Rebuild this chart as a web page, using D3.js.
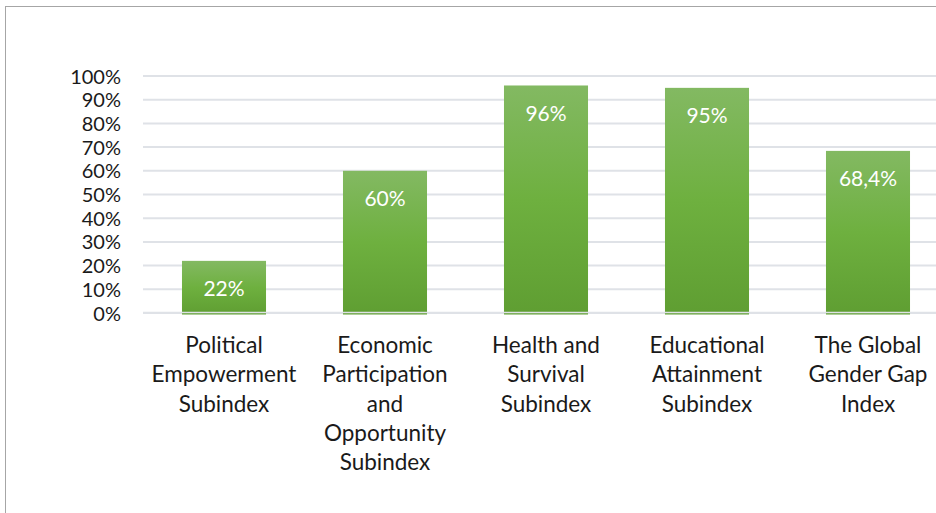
<!DOCTYPE html>
<html><head><meta charset="utf-8">
<script src="https://cdn.jsdelivr.net/npm/d3@7"></script>
<style>body{margin:0;background:#fff;overflow:hidden}</style>
</head><body>
<svg id="c" width="936" height="513"></svg>
<script>
const categories = [
  ["Political","Empowerment","Subindex"],
  ["Economic","Participation","and","Opportunity","Subindex"],
  ["Health and","Survival","Subindex"],
  ["Educational","Attainment","Subindex"],
  ["The Global","Gender Gap","Index"]
];
const values = [22, 60, 96, 95, 68.4];
const valueLabels = ["22%", "60%", "96%", "95%", "68,4%"];
const yTicks = [0,10,20,30,40,50,60,70,80,90,100];

const svg = d3.select("#c");
const font = "Lato, 'Open Sans', sans-serif";
svg.append("rect").attr("x",5.5).attr("y",6.5).attr("width",1000).attr("height",600)
  .attr("fill","#fff").attr("stroke","#a6a6a6").attr("stroke-width",1);

const x = d3.scaleBand().domain(d3.range(values.length)).range([143.5, 948.5]).paddingInner(0.478).paddingOuter(0.239);
const y = d3.scaleLinear().domain([0,100]).range([313, 76]);

const defs = svg.append("defs");
const g = defs.append("linearGradient").attr("id","gr").attr("x1",0).attr("y1",0).attr("x2",0).attr("y2",1);
g.append("stop").attr("offset","0%").attr("stop-color","#83b962");
g.append("stop").attr("offset","50%").attr("stop-color","#6eb03f");
g.append("stop").attr("offset","100%").attr("stop-color","#5f9e32");

svg.append("g").selectAll("line").data(yTicks).join("line")
  .attr("x1",143).attr("x2",936).attr("y1",d=>y(d)).attr("y2",d=>y(d))
  .attr("stroke","#dfe2e7").attr("stroke-width",2);

svg.append("g").selectAll("rect").data(values).join("rect")
  .attr("x",(d,i)=>x(i)).attr("width",x.bandwidth())
  .attr("y",d=>y(d)).attr("height",d=>y(0)-y(d)+1.5)
  .attr("fill","url(#gr)");
svg.append("line").attr("x1",143).attr("x2",936).attr("y1",y(0)-0.5).attr("y2",y(0)-0.5)
  .attr("stroke","#dfe2e7").attr("stroke-width",1.5);

svg.append("g").selectAll("text").data(values).join("text")
  .attr("x",(d,i)=>x(i)+x.bandwidth()/2).attr("y",d=>y(d)+35.5)
  .attr("text-anchor","middle").attr("fill","#fff").attr("font-family",font).attr("font-size",21)
  .text((d,i)=>valueLabels[i]);

svg.append("g").selectAll("text").data(yTicks).join("text")
  .attr("x",121).attr("y",d=>y(d)+7.5).attr("text-anchor","end")
  .attr("fill","#1a1a1a").attr("font-family",font).attr("font-size",20)
  .text(d=>d+"%");

const cg = svg.append("g");
categories.forEach((lines,i)=>{
  const t = cg.append("text").attr("text-anchor","middle").attr("fill","#1a1a1a")
    .attr("font-family",font).attr("font-size",22.5);
  lines.forEach((l,j)=>{
    t.append("tspan").attr("x",x(i)+x.bandwidth()/2).attr("y",353+j*29.3).text(l);
  });
});
</script>
</body></html>
